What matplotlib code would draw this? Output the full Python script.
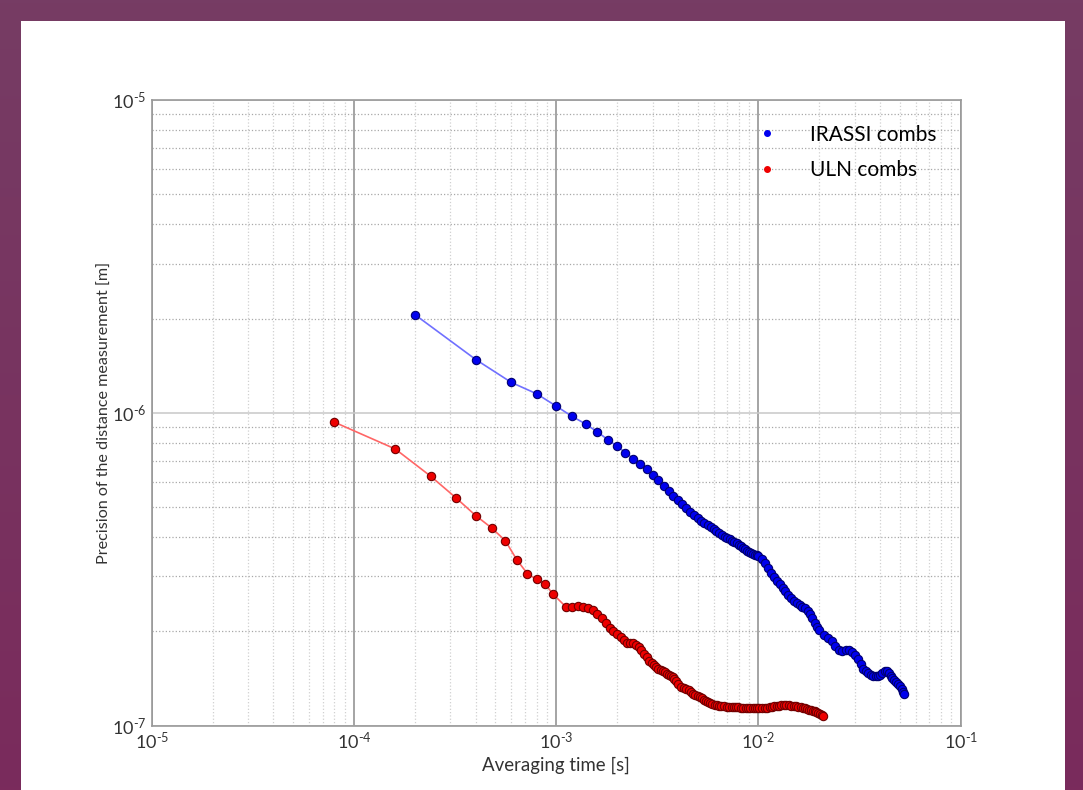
import numpy as np
import matplotlib

matplotlib.use("Agg")
import matplotlib.pyplot as plt
from matplotlib.colors import LinearSegmentedColormap
from matplotlib.lines import Line2D
from matplotlib.patches import Rectangle
from matplotlib.ticker import LogLocator, FuncFormatter, NullFormatter

# --- data (averaging time [s], precision [m]) ---
irassi_tau = [2.0e-4, 4.0e-4, 6.0e-4, 8.0e-4, 1.0e-3, 1.2e-3, 1.4e-3, 1.6e-3, 1.8e-3, 2.0e-3,
              2.2e-3, 2.4e-3, 2.6e-3, 2.8e-3, 3.0e-3, 3.2e-3, 3.4e-3, 3.6e-3, 3.8e-3, 4.0e-3,
              4.2e-3, 4.4e-3, 4.6e-3, 4.8e-3, 5.0e-3, 5.2e-3, 5.4e-3, 5.6e-3, 5.8e-3, 6.0e-3,
              6.2e-3, 6.4e-3, 6.6e-3, 6.8e-3, 7.0e-3, 7.2e-3, 7.4e-3, 7.6e-3, 7.8e-3, 8.0e-3,
              8.2e-3, 8.4e-3, 8.6e-3, 8.8e-3, 9.0e-3, 9.2e-3, 9.4e-3, 9.6e-3, 9.8e-3, 1.0e-2,
              1.04e-2, 1.08e-2, 1.12e-2, 1.16e-2, 1.20e-2, 1.24e-2, 1.28e-2, 1.32e-2, 1.36e-2, 1.40e-2,
              1.45e-2, 1.50e-2, 1.55e-2, 1.60e-2, 1.65e-2, 1.70e-2, 1.75e-2, 1.80e-2, 1.85e-2, 1.90e-2,
              1.95e-2, 2.00e-2, 2.10e-2, 2.20e-2, 2.30e-2, 2.40e-2, 2.50e-2, 2.60e-2, 2.70e-2, 2.80e-2,
              2.90e-2, 3.00e-2, 3.10e-2, 3.20e-2, 3.30e-2, 3.40e-2, 3.50e-2, 3.60e-2, 3.70e-2, 3.80e-2,
              3.90e-2, 4.00e-2, 4.10e-2, 4.20e-2, 4.30e-2, 4.40e-2, 4.50e-2, 4.60e-2, 4.70e-2, 4.80e-2,
              4.90e-2, 5.00e-2, 5.10e-2, 5.20e-2, 5.25e-2]
irassi_sig = [2.06e-6, 1.48e-6, 1.25e-6, 1.15e-6, 1.05e-6, 9.73e-7, 9.20e-7, 8.68e-7, 8.20e-7, 7.81e-7,
              7.46e-7, 7.14e-7, 6.84e-7, 6.61e-7, 6.34e-7, 6.11e-7, 5.85e-7, 5.61e-7, 5.40e-7, 5.25e-7,
              5.10e-7, 4.96e-7, 4.83e-7, 4.70e-7, 4.60e-7, 4.52e-7, 4.44e-7, 4.37e-7, 4.30e-7, 4.24e-7,
              4.18e-7, 4.12e-7, 4.07e-7, 4.02e-7, 3.98e-7, 3.94e-7, 3.90e-7, 3.86e-7, 3.82e-7, 3.78e-7,
              3.74e-7, 3.70e-7, 3.66e-7, 3.62e-7, 3.59e-7, 3.56e-7, 3.54e-7, 3.52e-7, 3.50e-7, 3.48e-7,
              3.40e-7, 3.30e-7, 3.19e-7, 3.08e-7, 2.99e-7, 2.90e-7, 2.83e-7, 2.76e-7, 2.69e-7, 2.62e-7,
              2.56e-7, 2.50e-7, 2.46e-7, 2.43e-7, 2.40e-7, 2.37e-7, 2.32e-7, 2.27e-7, 2.20e-7, 2.13e-7,
              2.07e-7, 2.02e-7, 1.95e-7, 1.90e-7, 1.86e-7, 1.80e-7, 1.74e-7, 1.73e-7, 1.74e-7, 1.74e-7,
              1.72e-7, 1.68e-7, 1.63e-7, 1.57e-7, 1.52e-7, 1.49e-7, 1.47e-7, 1.45e-7, 1.44e-7, 1.44e-7,
              1.44e-7, 1.45e-7, 1.47e-7, 1.49e-7, 1.49e-7, 1.47e-7, 1.44e-7, 1.42e-7, 1.40e-7, 1.38e-7,
              1.36e-7, 1.34e-7, 1.31e-7, 1.28e-7, 1.26e-7]

uln_tau = [8.0e-5, 1.6e-4, 2.4e-4, 3.2e-4, 4.0e-4, 4.8e-4, 5.6e-4, 6.4e-4, 7.2e-4, 8.0e-4,
           8.8e-4, 9.6e-4, 1.12e-3, 1.20e-3, 1.28e-3, 1.36e-3, 1.44e-3, 1.52e-3, 1.60e-3, 1.68e-3,
           1.76e-3, 1.84e-3, 1.92e-3, 2.00e-3, 2.08e-3, 2.16e-3, 2.24e-3, 2.32e-3, 2.40e-3, 2.48e-3,
           2.56e-3, 2.64e-3, 2.72e-3, 2.80e-3, 2.88e-3, 2.96e-3, 3.04e-3, 3.12e-3, 3.20e-3, 3.28e-3,
           3.36e-3, 3.44e-3, 3.52e-3, 3.60e-3, 3.68e-3, 3.76e-3, 3.84e-3, 3.92e-3, 4.00e-3, 4.16e-3,
           4.28e-3, 4.40e-3, 4.52e-3, 4.64e-3, 4.76e-3, 4.88e-3, 5.00e-3, 5.12e-3, 5.24e-3, 5.36e-3,
           5.48e-3, 5.60e-3, 5.76e-3, 5.92e-3, 6.08e-3, 6.24e-3, 6.40e-3, 6.56e-3, 6.76e-3, 6.96e-3,
           7.16e-3, 7.36e-3, 7.56e-3, 7.76e-3, 7.96e-3, 8.16e-3, 8.40e-3, 8.64e-3, 8.88e-3, 9.12e-3,
           9.36e-3, 9.60e-3, 9.84e-3, 1.008e-2, 1.04e-2, 1.072e-2, 1.104e-2, 1.136e-2, 1.168e-2, 1.20e-2,
           1.232e-2, 1.264e-2, 1.30e-2, 1.336e-2, 1.376e-2, 1.416e-2, 1.456e-2, 1.496e-2, 1.536e-2, 1.576e-2,
           1.616e-2, 1.656e-2, 1.696e-2, 1.736e-2, 1.776e-2, 1.816e-2, 1.856e-2, 1.896e-2, 1.936e-2, 1.976e-2,
           2.016e-2, 2.056e-2, 2.088e-2]
uln_sig = [9.33e-7, 7.66e-7, 6.26e-7, 5.34e-7, 4.69e-7, 4.28e-7, 3.90e-7, 3.38e-7, 3.06e-7, 2.93e-7,
           2.84e-7, 2.64e-7, 2.39e-7, 2.40e-7, 2.41e-7, 2.40e-7, 2.38e-7, 2.34e-7, 2.28e-7, 2.20e-7,
           2.12e-7, 2.05e-7, 2.00e-7, 1.96e-7, 1.92e-7, 1.87e-7, 1.84e-7, 1.83e-7, 1.83e-7, 1.81e-7,
           1.78e-7, 1.74e-7, 1.69e-7, 1.65e-7, 1.61e-7, 1.585e-7, 1.56e-7, 1.54e-7, 1.52e-7, 1.505e-7,
           1.49e-7, 1.478e-7, 1.466e-7, 1.453e-7, 1.44e-7, 1.425e-7, 1.41e-7, 1.385e-7, 1.36e-7, 1.33e-7,
           1.32e-7, 1.31e-7, 1.295e-7, 1.28e-7, 1.265e-7, 1.25e-7, 1.24e-7, 1.23e-7, 1.22e-7, 1.21e-7,
           1.20e-7, 1.19e-7, 1.18e-7, 1.17e-7, 1.165e-7, 1.16e-7, 1.157e-7, 1.155e-7, 1.152e-7, 1.15e-7,
           1.149e-7, 1.148e-7, 1.146e-7, 1.145e-7, 1.142e-7, 1.14e-7, 1.14e-7, 1.14e-7, 1.14e-7, 1.139e-7,
           1.139e-7, 1.139e-7, 1.138e-7, 1.137e-7, 1.137e-7, 1.139e-7, 1.141e-7, 1.144e-7, 1.148e-7, 1.151e-7,
           1.155e-7, 1.158e-7, 1.16e-7, 1.161e-7, 1.16e-7, 1.159e-7, 1.157e-7, 1.155e-7, 1.152e-7, 1.149e-7,
           1.145e-7, 1.14e-7, 1.135e-7, 1.13e-7, 1.125e-7, 1.12e-7, 1.115e-7, 1.11e-7, 1.104e-7, 1.097e-7,
           1.09e-7, 1.08e-7, 1.07e-7]

plt.rcParams["font.family"] = ["Lato", "DejaVu Sans"]
plt.rcParams["mathtext.fontset"] = "custom"
plt.rcParams["mathtext.rm"] = "Lato"
plt.rcParams["mathtext.it"] = "Lato"
plt.rcParams["mathtext.bf"] = "Lato"

fig = plt.figure(figsize=(10.83, 7.9), dpi=100)

# slide background: purple gradient with white panel
bg = fig.add_axes([0, 0, 1, 1], zorder=-10)
cmap = LinearSegmentedColormap.from_list("slide", ["#763c64", "#7a2b5c"])
bg.imshow(np.linspace(0, 1, 256).reshape(-1, 1), cmap=cmap, aspect="auto",
          extent=(0, 1, 0, 1))
bg.add_patch(Rectangle((21 / 1083, 0), (1065 - 21) / 1083, 1 - 21 / 790,
                       facecolor="white", edgecolor="none"))
bg.set_xlim(0, 1); bg.set_ylim(0, 1)
bg.axis("off")

ax = fig.add_axes([151.7 / 1083, 1 - 725.5 / 790, (960.7 - 151.7) / 1083, (725.5 - 100) / 790])
ax.set_xscale("log"); ax.set_yscale("log")
ax.set_xlim(1e-5, 1e-1); ax.set_ylim(1e-7, 1e-5)

ax.plot(irassi_tau, irassi_sig, "-", color="#7070ff", lw=1.2, zorder=3)
ax.plot(irassi_tau, irassi_sig, "o", ms=6, color="#0000ee", mec="#000070", mew=0.8, zorder=4)
ax.plot(uln_tau, uln_sig, "-", color="#ff6666", lw=1.2, zorder=3)
ax.plot(uln_tau, uln_sig, "o", ms=6, color="#ee0000", mec="#700000", mew=0.8, zorder=4)

ax.xaxis.set_major_locator(LogLocator(base=10, numticks=10))
ax.yaxis.set_major_locator(LogLocator(base=10, numticks=10))
ax.xaxis.set_minor_locator(LogLocator(base=10, subs=np.arange(2, 10), numticks=20))
ax.yaxis.set_minor_locator(LogLocator(base=10, subs=np.arange(2, 10), numticks=20))
fmt = FuncFormatter(lambda v, _: r"$\mathregular{10^{\text{-%d}}}$" % -round(np.log10(v)))
ax.xaxis.set_major_formatter(fmt); ax.yaxis.set_major_formatter(fmt)
ax.xaxis.set_minor_formatter(NullFormatter()); ax.yaxis.set_minor_formatter(NullFormatter())
ax.tick_params(which="both", length=0, labelsize=13, colors="#333333")
ax.tick_params(axis="x", pad=4)
ax.tick_params(axis="y", pad=4)

ax.grid(True, which="major", axis="x", color="#8c8c8c", lw=1.1, ls="-")
ax.grid(True, which="major", axis="y", color="#c8c8c8", lw=1.1, ls="-")
ax.grid(True, which="minor", axis="x", color="#d0d0d0", lw=0.9, ls=":")
ax.grid(True, which="minor", axis="y", color="#a8a8a8", lw=0.9, ls=":")
ax.set_axisbelow(True)
for s in ax.spines.values():
    s.set_color("#999999"); s.set_linewidth(1.2)

ax.set_xlabel("Averaging time [s]", fontsize=13.4, color="#333333", labelpad=3)
ax.set_ylabel("Precision of the distance measurement [m]", fontsize=11.6, color="#333333",
              labelpad=0)

handles = [Line2D([], [], ls="", marker="o", ms=4, color="#0000ee", mec="#0000ee"),
           Line2D([], [], ls="", marker="o", ms=4, color="#ee0000", mec="#ee0000")]
ax.legend(handles, ["IRASSI combs", "ULN combs"], loc="upper left", frameon=False,
          fontsize=15, handlelength=2.0, handletextpad=1.07, borderaxespad=0,
          labelspacing=0.75, bbox_to_anchor=(0.7246, 0.974))

fig.savefig("out.png", dpi=100)
